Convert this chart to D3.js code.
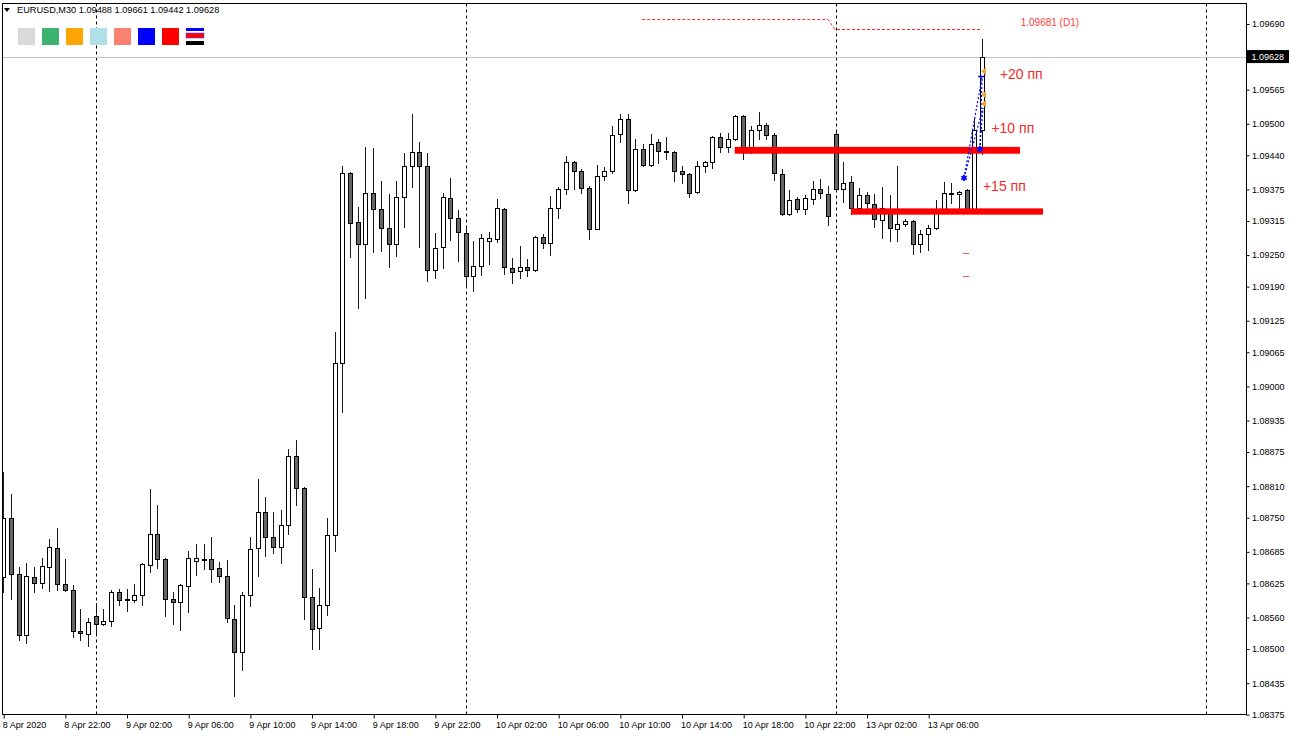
<!DOCTYPE html>
<html>
<head>
<meta charset="utf-8">
<script src="https://cdn.jsdelivr.net/npm/d3@7"></script>
<style>
body { margin: 0; background: #fff; }
svg { display: block; font-family: "Liberation Sans", Arial, sans-serif; }
</style>
</head>
<body>
<svg id="chart" width="1290" height="736"></svg>
<script>
// EURUSD M30, bar 0 = 8 Apr 2020 18:00 (Friday 10 Apr -> Monday 13 Apr has no gap in bars)
const opens = [
  1.08638, 1.08749, 1.08643, 1.08526, 1.08638, 1.08626, 1.08657, 1.08693,
  1.08624, 1.08613, 1.08535, 1.08528, 1.08563, 1.08547, 1.08554, 1.08608,
  1.08595, 1.08594, 1.08603, 1.08660, 1.08719, 1.08672, 1.08595, 1.08590,
  1.08620, 1.08668, 1.08671, 1.08672, 1.08655, 1.08639, 1.08558, 1.08494,
  1.08603, 1.08692, 1.08761, 1.08713, 1.08695, 1.08736, 1.08867, 1.08806,
  1.08600, 1.08540, 1.08584, 1.08717, 1.09044, 1.09407, 1.09313, 1.09272,
  1.09368, 1.09337, 1.09302, 1.09271, 1.09361, 1.09420, 1.09447, 1.09419,
  1.09222, 1.09265, 1.09359, 1.09321, 1.09292, 1.09211, 1.09230, 1.09276,
  1.09280, 1.09338, 1.09226, 1.09219, 1.09227, 1.09222, 1.09285, 1.09273,
  1.09339, 1.09376, 1.09428, 1.09411, 1.09378, 1.09300, 1.09401, 1.09410,
  1.09480, 1.09509, 1.09374, 1.09452, 1.09421, 1.09465, 1.09448, 1.09447,
  1.09410, 1.09404, 1.09370, 1.09419, 1.09427, 1.09474, 1.09455, 1.09471,
  1.09514, 1.09456, 1.09488, 1.09498, 1.09479, 1.09405, 1.09328, 1.09356,
  1.09338, 1.09357, 1.09376, 1.09367, 1.09481, 1.09376, 1.09390, 1.09340,
  1.09365, 1.09348, 1.09317, 1.09338, 1.09300, 1.09310, 1.09314, 1.09271,
  1.09290, 1.09301, 1.09337, 1.09368, 1.09367, 1.09374, 1.09338, 1.09488
];
const highs = [
  1.08838, 1.08796, 1.08657, 1.08664, 1.08657, 1.08673, 1.08710, 1.08730,
  1.08671, 1.08622, 1.08577, 1.08559, 1.08587, 1.08577, 1.08613, 1.08615,
  1.08615, 1.08624, 1.08664, 1.08804, 1.08775, 1.08674, 1.08609, 1.08624,
  1.08687, 1.08700, 1.08700, 1.08714, 1.08665, 1.08669, 1.08584, 1.08609,
  1.08714, 1.08824, 1.08789, 1.08761, 1.08765, 1.08881, 1.08898, 1.08808,
  1.08652, 1.08617, 1.08750, 1.09103, 1.09420, 1.09409, 1.09342, 1.09455,
  1.09454, 1.09391, 1.09366, 1.09391, 1.09444, 1.09519, 1.09466, 1.09444,
  1.09293, 1.09369, 1.09396, 1.09336, 1.09301, 1.09277, 1.09290, 1.09294,
  1.09357, 1.09340, 1.09244, 1.09268, 1.09242, 1.09287, 1.09290, 1.09363,
  1.09379, 1.09439, 1.09430, 1.09414, 1.09382, 1.09422, 1.09418, 1.09496,
  1.09519, 1.09519, 1.09471, 1.09461, 1.09481, 1.09471, 1.09474, 1.09449,
  1.09420, 1.09406, 1.09429, 1.09429, 1.09477, 1.09482, 1.09482, 1.09517,
  1.09516, 1.09495, 1.09522, 1.09502, 1.09482, 1.09414, 1.09374, 1.09360,
  1.09365, 1.09391, 1.09395, 1.09382, 1.09485, 1.09427, 1.09400, 1.09378,
  1.09371, 1.09366, 1.09379, 1.09365, 1.09420, 1.09318, 1.09316, 1.09298,
  1.09308, 1.09355, 1.09389, 1.09387, 1.09372, 1.09376, 1.09511, 1.09661
];
const lows = [
  1.08609, 1.08595, 1.08518, 1.08511, 1.08608, 1.08617, 1.08611, 1.08613,
  1.08611, 1.08523, 1.08518, 1.08506, 1.08530, 1.08545, 1.08543, 1.08583,
  1.08573, 1.08589, 1.08584, 1.08646, 1.08654, 1.08563, 1.08548, 1.08537,
  1.08570, 1.08641, 1.08652, 1.08627, 1.08627, 1.08551, 1.08411, 1.08460,
  1.08581, 1.08639, 1.08678, 1.08683, 1.08664, 1.08719, 1.08775, 1.08557,
  1.08500, 1.08500, 1.08565, 1.08686, 1.08951, 1.09247, 1.09150, 1.09168,
  1.09255, 1.09258, 1.09228, 1.09249, 1.09304, 1.09379, 1.09266, 1.09201,
  1.09206, 1.09226, 1.09279, 1.09238, 1.09190, 1.09181, 1.09212, 1.09233,
  1.09275, 1.09214, 1.09197, 1.09207, 1.09211, 1.09220, 1.09263, 1.09251,
  1.09320, 1.09366, 1.09376, 1.09368, 1.09280, 1.09299, 1.09393, 1.09407,
  1.09465, 1.09350, 1.09372, 1.09420, 1.09419, 1.09425, 1.09433, 1.09391,
  1.09387, 1.09360, 1.09368, 1.09408, 1.09416, 1.09447, 1.09447, 1.09469,
  1.09433, 1.09445, 1.09471, 1.09471, 1.09393, 1.09326, 1.09327, 1.09333,
  1.09328, 1.09347, 1.09358, 1.09308, 1.09374, 1.09352, 1.09329, 1.09331,
  1.09333, 1.09304, 1.09283, 1.09276, 1.09276, 1.09306, 1.09252, 1.09256,
  1.09260, 1.09299, 1.09335, 1.09350, 1.09331, 1.09336, 1.09336, 1.09442
];
const closes = [
  1.08749, 1.08643, 1.08526, 1.08639, 1.08626, 1.08659, 1.08694, 1.08624,
  1.08613, 1.08535, 1.08530, 1.08551, 1.08547, 1.08553, 1.08608, 1.08594,
  1.08593, 1.08603, 1.08662, 1.08719, 1.08672, 1.08595, 1.08589, 1.08621,
  1.08674, 1.08674, 1.08670, 1.08653, 1.08639, 1.08560, 1.08494, 1.08603,
  1.08690, 1.08761, 1.08714, 1.08695, 1.08736, 1.08867, 1.08806, 1.08600,
  1.08538, 1.08584, 1.08717, 1.09044, 1.09407, 1.09312, 1.09271, 1.09368,
  1.09338, 1.09302, 1.09271, 1.09360, 1.09420, 1.09447, 1.09420, 1.09222,
  1.09264, 1.09361, 1.09321, 1.09294, 1.09211, 1.09230, 1.09282, 1.09282,
  1.09339, 1.09227, 1.09218, 1.09227, 1.09222, 1.09285, 1.09273, 1.09339,
  1.09376, 1.09428, 1.09411, 1.09378, 1.09299, 1.09401, 1.09410, 1.09479,
  1.09509, 1.09374, 1.09452, 1.09422, 1.09461, 1.09448, 1.09447, 1.09411,
  1.09404, 1.09369, 1.09419, 1.09427, 1.09475, 1.09456, 1.09471, 1.09514,
  1.09455, 1.09488, 1.09498, 1.09479, 1.09406, 1.09328, 1.09355, 1.09338,
  1.09358, 1.09376, 1.09369, 1.09325, 1.09376, 1.09387, 1.09339, 1.09365,
  1.09349, 1.09319, 1.09339, 1.09301, 1.09310, 1.09315, 1.09271, 1.09290,
  1.09301, 1.09336, 1.09368, 1.09367, 1.09371, 1.09338, 1.09488, 1.09628
];

const timeLabels = ["8 Apr 2020", "8 Apr 22:00", "9 Apr 02:00", "9 Apr 06:00", "9 Apr 10:00",
  "9 Apr 14:00", "9 Apr 18:00", "9 Apr 22:00", "10 Apr 02:00", "10 Apr 06:00", "10 Apr 10:00",
  "10 Apr 14:00", "10 Apr 18:00", "10 Apr 22:00", "13 Apr 02:00", "13 Apr 06:00"];
const timeLabelBars = [0, 8, 16, 24, 32, 40, 48, 56, 64, 72, 80, 88, 96, 104, 112, 120];
const daySeparatorBars = [12, 60, 108, 156];

const priceTicks = [1.09690, 1.09565, 1.09500, 1.09440, 1.09375, 1.09315, 1.09250, 1.09190,
  1.09125, 1.09065, 1.09000, 1.08935, 1.08875, 1.08810, 1.08750, 1.08685, 1.08625, 1.08560,
  1.08500, 1.08435, 1.08375];

const symbolName = "EURUSD,M30";
const lastPrice = 1.09628;

// support / resistance zones (bar range, price range)
const zoneFrom = [94.9, 110.0];
const zoneTo = [131.9, 134.9];
const zoneLow = [1.09443, 1.09327];
const zoneHigh = [1.09456, 1.09339];

// D1 high level (dashed)
const d1Bars = [82.9, 107.0, 107.9, 127.0];
const d1Prices = [1.09700, 1.09700, 1.09681, 1.09681];
const d1Label = "1.09681 (D1)";

// trade arrows
const buyMarkBars = [124.65, 126.7];
const buyMarkPrices = [1.09397, 1.09452];
const closeMarkBars = [127.25, 127.25, 127.25];
const closeMarkPrices = [1.09600, 1.09556, 1.09538];
const tradeLineFrom = [[124.65, 1.09397], [124.65, 1.09397], [126.7, 1.09452], [126.7, 1.09452]];
const tradeLineTo = [[127.0, 1.09590], [127.1, 1.09530], [127.0, 1.09590], [127.1, 1.09530]];
const stopBars = [124.9, 124.9];
const stopPrices = [1.09254, 1.09211];

const noteTexts = ["+20 пп", "+10 пп", "+15 пп"];
const noteBars = [129.3, 128.2, 127.1];
const notePrices = [1.09585, 1.09482, 1.09373];

const legendColors = ["#d9d9d9", "#3cb371", "#ffa500", "#b0e0e6", "#fa8072", "#0000ff", "#ff0000"];

const W = 1290, H = 736;
const plotLeft = 2.5, plotRight = 1246.5, plotTop = 3.5, plotBottom = 714.5;

const svg = d3.select("#chart");

const x = d3.scaleLinear().domain([0, 156]).range([3.2, 1205.7]);
const y = d3.scaleLinear().domain([1.08375, 1.09690]).range([714.7, 24]);

svg.append("defs").append("clipPath").attr("id", "plotClip")
  .append("rect").attr("x", plotLeft + 0.5).attr("y", plotTop + 0.5)
  .attr("width", plotRight - plotLeft - 1).attr("height", plotBottom - plotTop - 1);

const plot = svg.append("g").attr("clip-path", "url(#plotClip)");

// period separators
plot.selectAll(".sep").data(daySeparatorBars).join("line")
  .attr("x1", d => Math.round(x(d)) + 0.5).attr("x2", d => Math.round(x(d)) + 0.5)
  .attr("y1", plotTop).attr("y2", plotBottom)
  .attr("stroke", "#000").attr("stroke-width", 1).attr("stroke-dasharray", "3,3");

// bid line
plot.append("line")
  .attr("x1", plotLeft).attr("x2", plotRight)
  .attr("y1", Math.round(y(lastPrice)) + 0.5).attr("y2", Math.round(y(lastPrice)) + 0.5)
  .attr("stroke", "#c4c4c4").attr("stroke-width", 1);

// D1 dashed level
plot.append("path")
  .attr("d", d3.line().x(d => x(d)).y((d, i) => Math.round(y(d1Prices[i])) + 0.5)(d1Bars))
  .attr("fill", "none").attr("stroke", "#ff2a2a").attr("stroke-width", 1)
  .attr("stroke-dasharray", "3,2");

// candles
const bars = opens.map((o, i) => ({ i, o, h: highs[i], l: lows[i], c: closes[i] }));
const candle = plot.selectAll(".candle").data(bars).join("g");

candle.append("line")
  .attr("x1", d => Math.round(x(d.i)) + 0.5).attr("x2", d => Math.round(x(d.i)) + 0.5)
  .attr("y1", d => Math.round(y(d.h))).attr("y2", d => Math.round(y(d.l)) + 1)
  .attr("stroke", "#1a1a1a").attr("stroke-width", 1);

candle.each(function (d) {
  const g = d3.select(this);
  const cx = Math.round(x(d.i));
  const yTop = Math.round(y(Math.max(d.o, d.c)));
  const yBot = Math.round(y(Math.min(d.o, d.c)));
  if (yBot - yTop < 1) {
    g.append("line").attr("x1", cx - 2).attr("x2", cx + 3)
      .attr("y1", yTop + 0.5).attr("y2", yTop + 0.5)
      .attr("stroke", "#000").attr("stroke-width", 1.2);
  } else {
    g.append("rect")
      .attr("x", cx - 1.5).attr("y", yTop + 0.5)
      .attr("width", 4).attr("height", yBot - yTop)
      .attr("fill", d.c >= d.o ? "#ffffff" : "#666666")
      .attr("stroke", "#000").attr("stroke-width", 1);
  }
});

// zones
plot.selectAll(".zone").data(zoneFrom).join("rect")
  .attr("x", d => x(d))
  .attr("width", (d, i) => x(zoneTo[i]) - x(d))
  .attr("y", (d, i) => y(zoneHigh[i]))
  .attr("height", (d, i) => y(zoneLow[i]) - y(zoneHigh[i]))
  .attr("fill", "#ff0000");

// stop marks
plot.selectAll(".stop").data(stopBars).join("line")
  .attr("x1", d => x(d) - 3).attr("x2", d => x(d) + 3)
  .attr("y1", (d, i) => Math.round(y(stopPrices[i])) + 0.5)
  .attr("y2", (d, i) => Math.round(y(stopPrices[i])) + 0.5)
  .attr("stroke", "#ff5050").attr("stroke-width", 1);

// trade lines
plot.selectAll(".trade").data(tradeLineFrom).join("line")
  .attr("x1", d => x(d[0])).attr("y1", d => y(d[1]))
  .attr("x2", (d, i) => x(tradeLineTo[i][0])).attr("y2", (d, i) => y(tradeLineTo[i][1]))
  .attr("stroke", "#0000ff").attr("stroke-width", 1.2).attr("stroke-dasharray", "2,2");

plot.selectAll(".buy").data(buyMarkBars).join("path")
  .attr("transform", (d, i) => `translate(${x(d)},${y(buyMarkPrices[i])})`)
  .attr("d", d3.symbol(d3.symbolAsterisk, 28))
  .attr("fill", "none").attr("stroke", "#0000ff").attr("stroke-width", 1.8);

plot.append("line")
  .attr("x1", x(127.0) - 4).attr("x2", x(127.0) + 3)
  .attr("y1", y(1.09590)).attr("y2", y(1.09590))
  .attr("stroke", "#0000ff").attr("stroke-width", 1.5);

plot.selectAll(".closeMark").data(closeMarkBars).join("path")
  .attr("transform", (d, i) => `translate(${x(d)},${y(closeMarkPrices[i])})`)
  .attr("d", "M-3,0L2,-4L2,4Z")
  .attr("fill", "#e8a93a");

// notes
plot.selectAll(".note").data(noteTexts).join("text")
  .attr("x", (d, i) => x(noteBars[i])).attr("y", (d, i) => y(notePrices[i]))
  .attr("font-size", 14).attr("fill", "#f42a2a")
  .text(d => d);

plot.append("text")
  .attr("x", x(132)).attr("y", y(1.09681) - 3)
  .attr("font-size", 10).attr("fill", "#ff3c3c")
  .text(d1Label);

// frame
svg.append("rect")
  .attr("x", plotLeft).attr("y", plotTop)
  .attr("width", plotRight - plotLeft).attr("height", plotBottom - plotTop)
  .attr("fill", "none").attr("stroke", "#000").attr("stroke-width", 1);

// price axis
const yAxis = svg.append("g")
  .attr("transform", `translate(${plotRight},0)`)
  .call(d3.axisRight(y).tickValues(priceTicks).tickFormat(d3.format(".5f"))
    .tickSize(3).tickPadding(2.5).tickSizeOuter(0));
yAxis.select(".domain").remove();
yAxis.selectAll("text").attr("font-family", "Liberation Sans, Arial, sans-serif")
  .attr("font-size", 9).attr("fill", "#000");

// current price box
svg.append("rect").attr("x", plotRight + 0.5).attr("y", y(lastPrice) - 6.5)
  .attr("width", W - plotRight - 1.5).attr("height", 13).attr("fill", "#000");
svg.append("text").attr("x", plotRight + 5).attr("y", y(lastPrice) + 3.3)
  .attr("font-size", 9).attr("fill", "#fff").text(d3.format(".5f")(lastPrice));

// time axis
const xAxis = svg.append("g")
  .attr("transform", `translate(0,${plotBottom})`)
  .call(d3.axisBottom(x).tickValues(timeLabelBars).tickFormat((d, i) => timeLabels[i])
    .tickSize(4).tickPadding(3).tickSizeOuter(0));
xAxis.select(".domain").remove();
xAxis.selectAll(".tick line").attr("transform", "translate(0.5,0)");
xAxis.selectAll("text").attr("font-family", "Liberation Sans, Arial, sans-serif")
  .attr("font-size", 9).attr("fill", "#000").attr("text-anchor", "start").attr("dx", -1);

// header
svg.append("path").attr("d", "M4,8L10,8L7,12Z").attr("fill", "#000");
svg.append("text").attr("x", 17).attr("y", 13).attr("font-size", 9.2).attr("fill", "#000")
  .text(symbolName + "  " + [opens[opens.length - 1], highs[highs.length - 1],
    lows[lows.length - 1], closes[closes.length - 1]].map(d3.format(".5f")).join(" "));

// color buttons
svg.selectAll(".swatch").data(legendColors).join("rect")
  .attr("x", (d, i) => 18 + i * 24).attr("y", 28)
  .attr("width", 17).attr("height", 17)
  .attr("fill", d => d);
const icon = svg.append("g").attr("transform", "translate(186,28)");
icon.append("rect").attr("x", 0).attr("y", 0).attr("width", 18).attr("height", 3).attr("fill", "#0000ff");
icon.append("rect").attr("x", 0).attr("y", 5).attr("width", 18).attr("height", 5).attr("fill", "#ff0000")
  .attr("stroke", "#3355ff").attr("stroke-width", 0.6);
icon.append("rect").attr("x", 0).attr("y", 13).attr("width", 18).attr("height", 4).attr("fill", "#000");
</script>
</body>
</html>
